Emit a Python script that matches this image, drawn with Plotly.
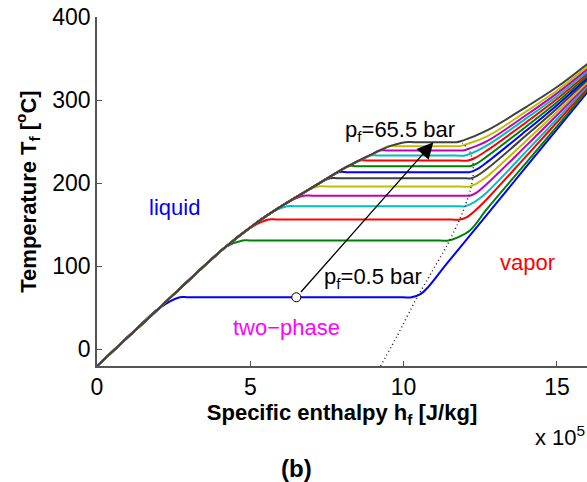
import plotly.graph_objects as go

# ---------------- data ----------------
# specific enthalpy in units of 1e5 J/kg, temperature in degC
PRESSURES_BAR = [0.5, 5.5, 10.5, 15.5, 20.5, 25.5, 30.5, 35.5, 40.5, 45.5, 50.5, 55.5, 60.5, 65.5]

# saturated-liquid envelope (shared start of every isobar)
ENV_H = [0.0, 1.0, 2.05, 3.03, 4.12, 5.21, 6.0, 7.05, 8.14, 9.23]
ENV_T = [-20, 14.5, 50.5, 84.5, 121, 152.5, 172, 195.5, 219.5, 239.5]

# each isobar after it leaves the liquid envelope
ISO_H = [
    [2.0, 2.7, 3.0, 9.96, 10.26, 10.55, 10.8, 11.4, 12.72, 14, 15, 16],
    [4.2, 4.75, 5.05, 11.16, 11.46, 11.75, 12.16, 12.72, 14, 15, 16],
    [5.0, 5.6, 5.9, 11.54, 11.84, 12.05, 12.3, 12.72, 14, 15, 16],
    [5.75, 6.2, 6.5, 11.7, 12.0, 12.2, 12.45, 12.72, 14, 15, 16],
    [6.35, 6.75, 7.05, 11.86, 12.16, 12.35, 12.72, 14, 15, 16],
    [6.85, 7.2, 7.5, 11.86, 12.16, 12.35, 12.72, 14, 15, 16],
    [7.3, 7.6, 7.9, 11.91, 12.21, 12.4, 12.72, 14, 15, 16],
    [7.6, 7.9, 8.2, 11.86, 12.16, 12.38, 12.72, 14, 15, 16],
    [7.95, 8.2, 8.5, 11.86, 12.16, 12.38, 12.72, 14, 15, 16],
    [8.3, 8.55, 8.85, 11.8, 12.1, 12.32, 12.72, 14, 15, 16],
    [8.6, 8.9, 9.2, 11.7, 12.0, 12.22, 12.72, 14, 15, 16],
    [8.95, 9.2, 9.5, 11.64, 11.94, 12.15, 12.72, 14, 15, 16],
    [9.2, 9.5, 9.8, 11.54, 11.84, 12.05, 12.72, 14, 15, 16],
    [9.6, 10.05, 10.35, 11.43, 11.73, 11.95, 12.72, 14, 15, 16],
]
ISO_T = [
    [48.8, 62.7, 62.7, 62.7, 62.7, 66.5, 75, 102.8, 162.2, 219.8, 264.8, 309.8],
    [123.3, 131, 131, 131, 131, 134.5, 143, 169, 224.7, 268.3, 312.3],
    [146.4, 156.3, 156.3, 156.3, 156.3, 159, 166, 181, 232.6, 273.3, 314.6],
    [165.8, 172.3, 172.3, 172.3, 172.3, 175, 181, 189.2, 238.3, 277.2, 317],
    [179.8, 185, 185, 185, 185, 188, 199.3, 245.2, 281.7, 319.4],
    [191, 196, 196, 196, 196, 199, 208, 251.2, 285.7, 321.8],
    [201, 206, 206, 206, 206, 209, 217.3, 257.6, 290.0, 324.3],
    [207.6, 213.3, 213.3, 213.3, 213.3, 216.5, 225.3, 263.3, 293.9, 326.8],
    [215.3, 220.5, 220.5, 220.5, 220.5, 223.5, 232.2, 268.3, 297.5, 329.3],
    [222.4, 227.3, 227.3, 227.3, 227.3, 230.3, 239.4, 273.4, 301.3, 332],
    [227.9, 233.3, 233.3, 233.3, 233.3, 236, 245.4, 278.0, 304.7, 334.8],
    [234.3, 239.4, 239.4, 239.4, 239.4, 241.8, 250.6, 282.0, 308.1, 337.6],
    [239.0, 244.6, 244.6, 244.6, 244.6, 247, 256.3, 286.4, 311.6, 340.6],
    [245.2, 249.4, 249.4, 249.4, 249.4, 251.5, 263.5, 291.8, 315.7, 343.8],
]

# saturated-vapour line (dotted)
SATV_H = [9.25, 9.8, 10.37, 10.9, 11.4, 11.75, 12.0, 12.18, 12.27, 12.25, 12.12, 11.92, 11.73]
SATV_T = [-20, 17, 58, 92, 124, 150, 172, 192, 210, 228, 241, 248, 251]

# arrow from 0.5 bar to 65.5 bar
ARROW_FROM = (6.5, 62.7)
ARROW_TO = (10.97, 249.4)

COLORS = ["#0000ff", "#008000", "#ff0000", "#00bfbf", "#bf00bf", "#bfbf00", "#404040"]

FONT = "Liberation Sans, Arial, sans-serif"

fig = go.Figure()

for i, (hh, tt) in enumerate(zip(ISO_H, ISO_T)):
    xs = [h for h in ENV_H if h < hh[0]] + hh
    ys = [t for h, t in zip(ENV_H, ENV_T) if h < hh[0]] + tt
    fig.add_trace(go.Scatter(
        x=xs, y=ys, mode="lines",
        line=dict(color=COLORS[i % len(COLORS)], width=2, shape="spline", smoothing=1.0),
        name=f"{PRESSURES_BAR[i]} bar", showlegend=False, hoverinfo="skip"))

fig.add_trace(go.Scatter(
    x=SATV_H, y=SATV_T, mode="lines",
    line=dict(color="#222222", width=1.5, dash="1px,3px", shape="spline", smoothing=0.6),
    showlegend=False, hoverinfo="skip"))

fig.add_trace(go.Scatter(
    x=[ARROW_FROM[0]], y=[ARROW_FROM[1]], mode="markers",
    marker=dict(size=9, color="white", line=dict(color="black", width=1)),
    showlegend=False, hoverinfo="skip"))

annotations = [
    dict(x=ARROW_TO[0], y=ARROW_TO[1], ax=ARROW_FROM[0], ay=ARROW_FROM[1],
         xref="x", yref="y", axref="x", ayref="y", text="", showarrow=True,
         arrowhead=2, arrowsize=2.5, arrowwidth=1.3, arrowcolor="black",
         startstandoff=5),
    dict(x=9.88, y=263, xref="x", yref="y", text="p<sub>f</sub>=65.5 bar", showarrow=False,
         font=dict(family=FONT, size=22, color="black"), xanchor="center", yanchor="middle"),
    dict(x=9.01, y=86, xref="x", yref="y", text="p<sub>f</sub>=0.5 bar", showarrow=False,
         font=dict(family=FONT, size=22, color="black"), xanchor="center", yanchor="middle"),
    dict(x=2.54, y=171, xref="x", yref="y", text="liquid", showarrow=False,
         font=dict(family=FONT, size=22, color="#0000ff"), xanchor="center", yanchor="middle"),
    dict(x=6.17, y=26.5, xref="x", yref="y", text="two\u2212phase", showarrow=False,
         font=dict(family=FONT, size=22, color="#ff00ff"), xanchor="center", yanchor="middle"),
    dict(x=14.04, y=104.7, xref="x", yref="y", text="vapor", showarrow=False,
         font=dict(family=FONT, size=22, color="#ff0000"), xanchor="center", yanchor="middle"),
    dict(x=1.0, y=-0.2, xref="paper", yref="paper", text="x 10<sup>5</sup>", showarrow=False,
         font=dict(family=FONT, size=22, color="black"), xanchor="right", yanchor="middle"),
    dict(x=0.408, y=-0.294, xref="paper", yref="paper", text="<b>(b)</b>", showarrow=False,
         font=dict(family=FONT, size=24, color="black"), xanchor="center", yanchor="middle"),
]

axis_common = dict(
    showline=True, linecolor="#555555", linewidth=1.5,
    ticks="inside", ticklen=5, tickcolor="#555555", tickwidth=1,
    showgrid=False, zeroline=False,
    tickfont=dict(family=FONT, size=23, color="black"),
)

fig.update_layout(
    width=587, height=482,
    margin=dict(l=97, r=0, t=17, b=116),
    paper_bgcolor="white", plot_bgcolor="white",
    xaxis=dict(range=[0, 15.98], tickvals=[0, 5, 10, 15], ticktext=["0", "5", "10", "15"],
               title=dict(text="<b>Specific enthalpy h<sub>f</sub> [J/kg]</b>", standoff=0,
                          font=dict(family=FONT, size=22, color="black")),
               **axis_common),
    yaxis=dict(range=[-20, 400], tickvals=[0, 100, 200, 300, 400],
               title=dict(text="<b>Temperature T<sub>f</sub> [<sup>o</sup>C]</b>", standoff=10,
                          font=dict(family=FONT, size=22, color="black")),
               **axis_common),
    annotations=annotations,
    showlegend=False,
)

fig.write_html("out.html")
